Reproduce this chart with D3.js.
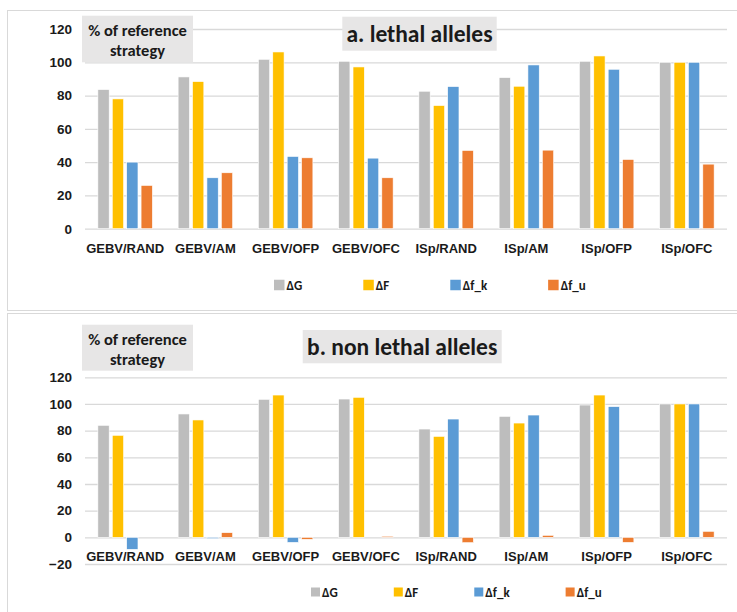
<!DOCTYPE html>
<html>
<head>
<meta charset="utf-8">
<script src="https://cdn.jsdelivr.net/npm/d3@7"></script>
<style>
  html, body { margin: 0; padding: 0; background: #ffffff; }
  svg { display: block; font-family: Carlito, Calibri, Lato, "Open Sans", sans-serif; font-weight: bold; }
</style>
</head>
<body>
<svg id="chart" width="737" height="612"></svg>
<script>
// Strategy combinations on the x axis
const categories = ["GEBV/RAND", "GEBV/AM", "GEBV/OFP", "GEBV/OFC", "ISp/RAND", "ISp/AM", "ISp/OFP", "ISp/OFC"];
const seriesNames = ["ΔG", "ΔF", "Δf_k", "Δf_u"];
const seriesColors = ["#bdbdbd", "#ffc000", "#5b9bd5", "#ed7d31"];

// a. lethal alleles (% of reference strategy)
const lethalDG  = [83.6, 91.2, 101.8, 100.6, 82.6, 90.8, 100.6, 100];
const lethalDF  = [78.0, 88.4, 106.2, 97.2, 74.0, 85.6, 103.8, 100];
const lethalDfk = [40.0, 30.6, 43.4, 42.4, 85.4, 98.4, 95.8, 100];
const lethalDfu = [26.0, 33.6, 42.6, 30.6, 47.0, 47.2, 41.6, 38.8];

// b. non lethal alleles (% of reference strategy)
const nonLethalDG  = [84.0, 92.5, 103.5, 103.7, 81.2, 90.7, 99.2, 100];
const nonLethalDF  = [76.5, 88.0, 106.7, 105.0, 75.7, 85.7, 106.7, 100];
const nonLethalDfk = [-9.0, -1.0, -3.8, 0.0, 88.7, 91.7, 98.0, 100];
const nonLethalDfu = [0.0, 3.5, -1.5, 0.8, -4.0, 1.5, -3.8, 4.5];

const lethalTicks = [0, 20, 40, 60, 80, 100, 120];
const nonLethalTicks = [-20, 0, 20, 40, 60, 80, 100, 120];

const svg = d3.select("#chart");

function drawPanel(opt) {
  const g = svg.append("g");

  // panel frame
  g.append("rect")
    .attr("x", opt.frame[0] + 0.5).attr("y", opt.frame[1] + 0.5)
    .attr("width", opt.frame[2]).attr("height", opt.frame[3])
    .attr("fill", "#ffffff").attr("stroke", "#d9d9d9").attr("stroke-width", 1);

  const x = d3.scaleBand().domain(categories).range([85, 727]).padding(0);
  const y = d3.scaleLinear().domain(opt.domain).range(opt.yRange);
  const inner = d3.scaleBand().domain(seriesNames).range([-28.8, 28.8])
    .paddingInner(0.215).paddingOuter(0.1075);

  // gridlines
  const grid = d3.axisLeft(y).tickValues(opt.ticks).tickSize(-(727 - 85)).tickFormat("");
  const gg = g.append("g").attr("transform", "translate(85,0)").call(grid);
  gg.select(".domain").remove();
  gg.selectAll("line").attr("stroke", "#d9d9d9").attr("stroke-width", 1.3);

  // value axis labels
  const ya = d3.axisLeft(y).tickValues(opt.ticks).tickSize(0).tickPadding(0);
  const yg = g.append("g").attr("transform", "translate(72,0)").call(ya);
  yg.select(".domain").remove();
  yg.selectAll("text").attr("font-size", 13.5).attr("fill", "#1a1a1a")
    .attr("font-family", null).attr("font-weight", "bold");

  // bars
  opt.series.forEach((vals, si) => {
    g.append("g").selectAll("rect")
      .data(vals)
      .join("rect")
      .attr("x", (d, i) => x(categories[i]) + x.bandwidth() / 2 + inner(seriesNames[si]))
      .attr("width", inner.bandwidth())
      .attr("y", d => y(Math.max(0, d)))
      .attr("height", d => Math.abs(y(d) - y(0)))
      .attr("fill", seriesColors[si])
      .attr("stroke", "#ffffff").attr("stroke-width", 0.6);
  });

  // category axis labels
  const xa = d3.axisBottom(x).tickSize(0).tickPadding(0);
  const xg = g.append("g").attr("transform", `translate(0,${opt.catY})`).call(xa);
  xg.select(".domain").remove();
  xg.selectAll("text").attr("font-size", 13).attr("fill", "#1a1a1a")
    .attr("font-family", null).attr("font-weight", "bold").attr("dy", "0.35em");

  // axis unit box
  g.append("rect").attr("x", 82).attr("y", opt.unitBox[0])
    .attr("width", 111).attr("height", opt.unitBox[1]).attr("fill", "#e7e6e6");
  const ut = g.append("text").attr("text-anchor", "middle").attr("font-size", 16.5).attr("fill", "#1a1a1a");
  ut.append("tspan").attr("x", 137.5).attr("y", opt.unitBox[0] + 20.5).text("% of reference");
  ut.append("tspan").attr("x", 137.5).attr("y", opt.unitBox[0] + 40.5).text("strategy");

  // title box
  g.append("rect").attr("x", opt.titleBox[0]).attr("y", opt.titleBox[1])
    .attr("width", opt.titleBox[2]).attr("height", opt.titleBox[3]).attr("fill", "#e7e6e6");
  g.append("text").attr("x", opt.titleBox[0] + opt.titleBox[2] / 2)
    .attr("y", opt.titleBox[1] + opt.titleBox[3] / 2).attr("dy", "0.35em")
    .attr("text-anchor", "middle").attr("font-size", 23.5).attr("fill", "#1a1a1a")
    .text(opt.title);

  // legend
  const lg = g.append("g");
  let lx = opt.legend[0];
  seriesNames.forEach((name, si) => {
    const item = lg.append("g").attr("transform", `translate(${lx},${opt.legend[1]})`);
    item.append("rect").attr("x", 0).attr("y", -opt.legend[3] / 2)
      .attr("width", opt.legend[3]).attr("height", opt.legend[3]).attr("fill", seriesColors[si]);
    const t = item.append("text").attr("x", opt.legend[3] + 2).attr("dy", "0.35em")
      .attr("font-size", 13).attr("fill", "#1a1a1a").text(name);
    lx += opt.legend[3] + 2 + t.node().getComputedTextLength() + opt.legend[2];
  });
}

drawPanel({
  frame: [7, 10, 740, 300],
  domain: [0, 120], yRange: [228.7, 29], ticks: lethalTicks,
  series: [lethalDG, lethalDF, lethalDfk, lethalDfu],
  catY: 248,
  unitBox: [15.7, 46.6],
  titleBox: [342.3, 16.7, 154.4, 34],
  title: "a. lethal alleles",
  legend: [274, 285, 61, 10.5]
});

drawPanel({
  frame: [7, 313, 740, 310],
  domain: [-20, 120], yRange: [564, 377.3], ticks: nonLethalTicks,
  series: [nonLethalDG, nonLethalDF, nonLethalDfk, nonLethalDfu],
  catY: 556.5,
  unitBox: [324.7, 46],
  titleBox: [302.7, 330, 199, 33.3],
  title: "b. non lethal alleles",
  legend: [311, 592, 56, 9]
});
</script>
</body>
</html>
